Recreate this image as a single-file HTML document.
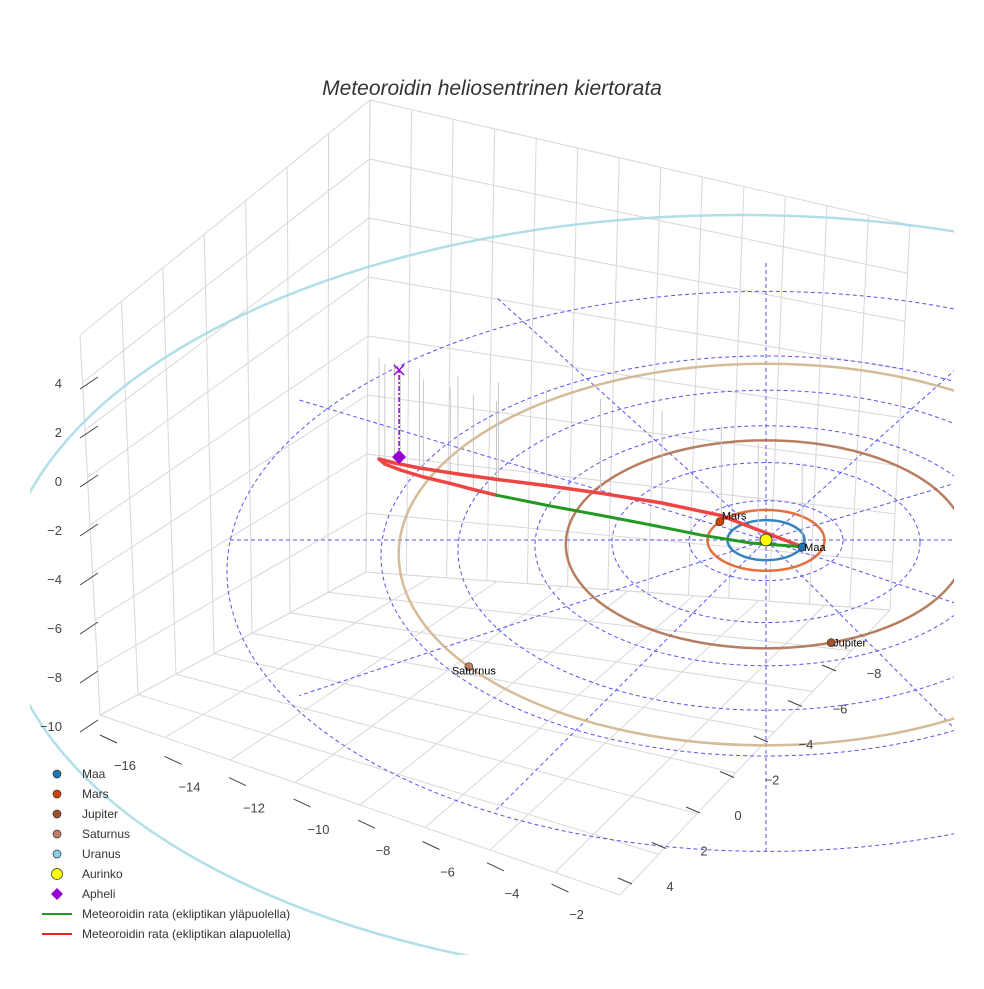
<!DOCTYPE html>
<html><head><meta charset="utf-8"><style>
body{margin:0;background:#fff;font-family:"Liberation Sans",sans-serif}
svg text{font-family:"Liberation Sans",sans-serif}
</style></head><body>
<svg id="c" width="984" height="984" xmlns="http://www.w3.org/2000/svg">
<rect width="984" height="984" fill="#fff"/>
<text x="492" y="95" text-anchor="middle" font-size="21" font-style="italic" fill="#333">Meteoroidin heliosentrinen kiertorata</text>
<defs><clipPath id="clip"><rect x="30" y="0" width="924" height="955"/></clipPath></defs>
<g id="grid" stroke="#d8d8d8" fill="none" stroke-width="1"></g>
<g id="plot" clip-path="url(#clip)"></g>
<g id="axes"></g>
<g id="legend"></g>
</svg>
<script>
const planetNames=["Maa","Mars","Jupiter","Saturnus","Uranus"];
const planetRadii=[1,1.52,5.2,9.54,19.2];
const planetAngles=[20,-142,71,144,0];
const planetColors=["#1f77b4","#e0622a","#b07050","#d2b48c","#a8dce6"];
const markerColors=["#1f77b4","#cc4400","#a0522d","#c08060","#87ceeb"];
const ringRadii=[2,4,6,8,10,14];
const upperX=[0.94,-0.2,-1.16,-2.7,-4.3,-5.7,-6.95,-8.0,-9.0,-9.65,-10.05];
const upperY=[0.34,-0.5,-1.22,-1.85,-2.34,-2.72,-3.02,-3.3,-3.6,-3.85,-4.05];
const lowerX=[-10.05,-9.9,-9.5,-8.9,-8.2,-7.6,-7.0];
const lowerY=[-4.05,-3.8,-3.5,-3.15,-2.83,-2.52,-2.24];
const greenX=[-7.0,-5.6,-4.25,-2.9,-1.67,-0.4,0.94];
const greenY=[-2.24,-1.7,-1.22,-0.72,-0.24,0.15,0.34];
const zTicks=[4,2,0,-2,-4,-6,-8,-10];
const xTicks=[-16,-14,-12,-10,-8,-6,-4,-2];
const yTicks=[-8,-6,-4,-2,0,2,4];
const NS="http://www.w3.org/2000/svg";
const CX=766,CY=540,SX=38.5,SY=20;
const px=x=>CX+x*SX, py=y=>CY+y*SY;
function mk(tag,attrs,parent){const e=document.createElementNS(NS,tag);for(const k in attrs)e.setAttribute(k,attrs[k]);parent.appendChild(e);return e;}
const grid=document.getElementById('grid'),plot=document.getElementById('plot'),axes=document.getElementById('axes'),leg=document.getElementById('legend');
function ln(x1,y1,x2,y2,p,st){return mk('line',{x1,y1,x2,y2,...(st||{})},p);}
const L=(P,Q,t)=>[P[0]+(Q[0]-P[0])*t,P[1]+(Q[1]-P[1])*t];
function quad(A,B,C,D,nu,nv){for(let i=0;i<=nu;i++){const t=i/nu;const p=L(A,B,t),q=L(D,C,t);ln(p[0],p[1],q[0],q[1],grid);}
 for(let j=0;j<=nv;j++){const s=j/nv;const p=L(A,D,s),q=L(B,C,s);ln(p[0],p[1],q[0],q[1],grid);}}
quad([80,335],[370,100],[366,572],[100,715],7,8);
quad([370,100],[910,225],[890,610],[366,572],13,8);
quad([100,715],[366,572],[890,610],[620,895],7,8);
ringRadii.forEach(r=>{const e=mk('ellipse',{cx:CX,cy:CY+0.16*r*r,rx:r*SX,ry:r*SY,fill:'none',stroke:'#5555ee','stroke-width':1,'stroke-dasharray':'4,3'},plot);});
for(let a=0;a<360;a+=30){const R=14;const e=mk('line',{x1:CX,y1:CY,x2:px(R*Math.cos(a*Math.PI/180)),y2:py(R*Math.sin(a*Math.PI/180))+0.16*R*R*Math.max(0,Math.sin(a*Math.PI/180)),stroke:'#5555ee','stroke-width':1,'stroke-dasharray':'4,3'},plot);}
planetRadii.forEach((r,i)=>{const sh=0.16*r*r;const e=mk('ellipse',{cx:CX-(i==4?26:0),cy:CY+sh,rx:r*SX,ry:r*SY,fill:'none',stroke:planetColors[i],'stroke-width':2.5,opacity:0.9},plot);});
upperX.concat(lowerX.slice(1)).forEach((x,i)=>{const y=i<upperX.length?upperY[i]:lowerY[i-upperX.length+1];const e=mk('line',{x1:px(x),y1:py(y),x2:px(x),y2:py(y)-85+y*4,stroke:'#c8c8c8','stroke-width':1},plot);});
function path(xs,ys,col,name,w){const d=xs.map((x,i)=>(i?'L':'M')+px(x).toFixed(1)+','+py(ys[i]).toFixed(1)).join('');const e=mk('path',{d,fill:'none',stroke:col,'stroke-width':w,'stroke-linejoin':'round','stroke-linecap':'round'},plot);}
path(upperX,upperY,'#ee4444','orbit-below-upper',3.5);
path(lowerX,lowerY,'#ee4444','orbit-below-lower',3.5);
path(greenX,greenY,'#229922','orbit-above',3);
const ax=px(upperX[upperX.length-1])+20,ay=py(upperY[upperY.length-1])-2;
let e=mk('line',{x1:ax,y1:ay,x2:ax,y2:ay-87,stroke:'#9400d3','stroke-width':1.5,'stroke-dasharray':'5,2,2,2'},plot);
e=mk('path',{d:`M${ax},${ay-7}L${ax+7},${ay}L${ax},${ay+7}L${ax-7},${ay}Z`,fill:'#9400d3'},plot);
e=mk('path',{d:`M${ax-5},${ay-92}L${ax+5},${ay-82}M${ax+5},${ay-92}L${ax-5},${ay-82}`,stroke:'#9400d3','stroke-width':1.5},plot);
[0,1,2,3].forEach(i=>{const r=planetRadii[i],a=planetAngles[i]*Math.PI/180;const x=px(r*Math.cos(a)),y=py(r*Math.sin(a))+0.16*r*r;
const c=mk('circle',{cx:x,cy:y,r:4,fill:markerColors[i],stroke:'#333','stroke-width':0.7},plot);
const t=mk('text',{x:i==3?x-17:x+2,y:i==3?y+8:(i==1?y-2:y+4),'font-size':11,fill:'#000'},plot);t.textContent=planetNames[i];});
e=mk('circle',{cx:CX,cy:CY,r:6,fill:'#ffff00',stroke:'#333','stroke-width':1},plot);
zTicks.forEach(z=>{const y=481-z*24.5;ln(80,y+6,98,y-6,axes,{stroke:'#444','stroke-width':1});const t=mk('text',{x:62,y:y+5,'font-size':13,fill:'#444','text-anchor':'end'},axes);t.textContent=(z<0?'\u2212':'')+Math.abs(z);});
xTicks.forEach((v,i)=>{const x=125+i*64.5,y=765+i*21.3;ln(x-25,y-30,x-8,y-22,axes,{stroke:'#444'});const t=mk('text',{x,y:y+5,'font-size':13,fill:'#444','text-anchor':'middle'},axes);t.textContent='\u2212'+Math.abs(v);});
yTicks.forEach((v,i)=>{const x=874-i*34,y=673+i*35.5;ln(x-52,y-8,x-38,y-2,axes,{stroke:'#444'});const t=mk('text',{x,y:y+5,'font-size':13,fill:'#444','text-anchor':'middle'},axes);t.textContent=(v<0?'\u2212':'')+Math.abs(v);});
const legLabels=["Maa","Mars","Jupiter","Saturnus","Uranus","Aurinko","Apheli","Meteoroidin rata (ekliptikan yläpuolella)","Meteoroidin rata (ekliptikan alapuolella)"];
const legColors=["#1f77b4","#cc4400","#a0522d","#c08060","#87ceeb","#ffff00","#9400d3","#229922","#ee2222"];
legLabels.forEach((l,i)=>{const y=774+i*20;const g=mk('g',{},leg);
if(i<6)mk('circle',{cx:57,cy:y,r:i==5?5.5:4,fill:legColors[i],stroke:'#333','stroke-width':0.7},g);
else if(i==6)mk('path',{d:`M57,${y-6}L63,${y}L57,${y+6}L51,${y}Z`,fill:legColors[i]},g);
else mk('line',{x1:42,y1:y,x2:72,y2:y,stroke:legColors[i],'stroke-width':2},g);
const t=mk('text',{x:82,y:y+4,'font-size':12,fill:'#333'},g);t.textContent=l;});
</script>
</body></html>
